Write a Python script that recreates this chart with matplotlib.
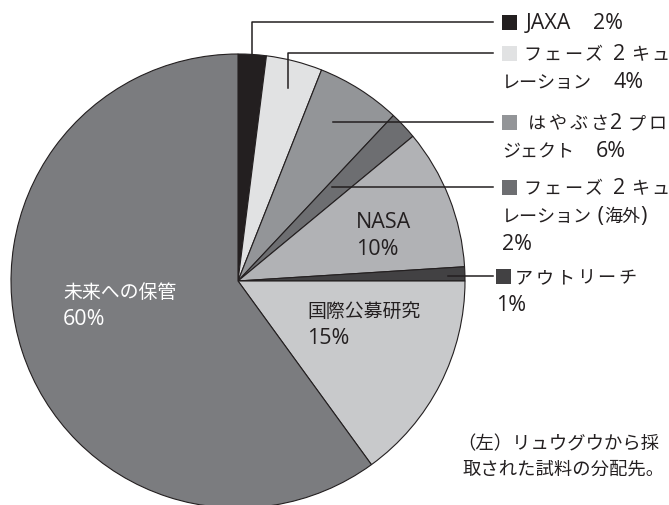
import matplotlib
matplotlib.use("Agg")
import matplotlib.pyplot as plt
from matplotlib.patches import Rectangle
import numpy as np

plt.rcParams['font.family'] = ['Open Sans', 'Noto Sans CJK JP', 'DejaVu Sans']

# data (clockwise from the top)
names = ["JAXA", "フェーズ2キュレーション", "はやぶさ2プロジェクト", "フェーズ2キュレーション(海外)",
         "NASA", "アウトリーチ", "国際公募研究", "未来への保管"]
shares = [2, 4, 6, 2, 10, 1, 15, 60]
colors = ["#231f20", "#e1e2e3", "#939598", "#6d6e71", "#b1b2b5", "#424143", "#c8c9cb", "#7b7c7f"]

# labels on the right, with leader lines (index -> lines of text)
outer_idx = [0, 1, 2, 3, 5]
outer_lines = [["JAXA　2%"],
               ["フェーズ 2キュ", "レーション　4%"],
               ["はやぶさ2プロ", "ジェクト　6%"],
               ["フェーズ 2キュ", "レーション (海外)", "2%"],
               ["アウトリーチ", "1%"]]

# labels inside the pie
inner_idx = [4, 6, 7]
inner_text = ["NASA\n10%", "国際公募研究\n15%", "未来への保管\n60%"]

caption = ["（左）リュウグウから採", "取された試料の分配先。"]

# layout (pixels, y measured from the top)
W, H = 669, 505
cx, cy, R = 238, 281, 227
label_y = [22, 53, 122, 187, 276]
anchor_frac = [1.0, 0.88, 0.78, 0.57, 0.925]
elbow = [True, True, False, False, False]
marker_x = [502, 502, 502, 502, 496]
text_dx = [24, 21, 26, 21, 19]
line_end = 493
inner_pos = [(356, 221), (307, 310), (63, 291)]
inner_col = ["#231f20", "#231f20", "white"]
text_col = "#231f20"
fs_cjk = 13.6
fs_out = 13.0
fs_lat = 15.5


def py(y):
    return H - y


fig = plt.figure(figsize=(W / 100, H / 100), dpi=100)
ax = fig.add_axes([0, 0, 1, 1])
renderer = fig.canvas.get_renderer()

ax.pie(shares, colors=colors, startangle=90, counterclock=False,
       center=(cx, py(cy)), radius=R,
       wedgeprops=dict(edgecolor="#231f20", linewidth=0.8))
ax.set_aspect("auto")
ax.set_xlim(0, W)
ax.set_ylim(0, H)
ax.axis("off")

cum = np.cumsum([0] + shares[:-1])
mid_deg = 90 - 3.6 * (cum + np.array(shares) / 2)


def runs(s):
    # split into ascii / cjk / ideographic-space runs
    out = []
    for ch in s:
        kind = "sp" if ch == "　" else ("lat" if ord(ch) < 128 else "cjk")
        if out and out[-1][0] == kind and kind != "sp":
            out[-1][1] += ch
        else:
            out.append([kind, ch])
    return out


def draw_line(x, y, s, color=text_col, track=None, fs_c=fs_cjk, gap=22):
    # text is centred on y (pixels from top); latin drawn a bit larger
    base = py(y + 7)
    for kind, part in runs(s):
        if kind == "sp":
            x += gap
            continue
        size = fs_lat if kind == "lat" else fs_c
        if track:
            for ch in part:
                if ch != " ":
                    ax.text(x, base, ch, ha="left", va="baseline", fontsize=size, color=color)
                x += 8 if ch == " " else (17.5 if kind == "lat" else track)
        else:
            t = ax.text(x, base, part, ha="left", va="baseline", fontsize=size, color=color)
            x += t.get_window_extent(renderer).width


for k, i in enumerate(outer_idx):
    a = np.deg2rad(mid_deg[i])
    ax_x = cx + anchor_frac[k] * R * np.cos(a)
    ax_y = cy - anchor_frac[k] * R * np.sin(a)
    ly = label_y[k]
    if elbow[k]:
        ax.plot([ax_x, ax_x, line_end], [py(ax_y), py(ly), py(ly)], color=text_col, lw=1.1)
    else:
        ax.plot([ax_x, line_end], [py(ly), py(ly)], color=text_col, lw=1.1)
    mx = marker_x[k]
    ax.add_patch(Rectangle((mx, py(ly) - 7.5), 15, 15, facecolor=colors[i], edgecolor="none"))
    lines = outer_lines[k]
    if k == 0:
        draw_line(mx + text_dx[k], ly, lines[0], fs_c=fs_out)
    else:
        draw_line(mx + text_dx[k], ly, lines[0], track=20.6, fs_c=fs_out)
    for j, ln in enumerate(lines[1:]):
        draw_line(mx, ly + 28 * (j + 1), ln, fs_c=fs_out)

for (x, y), s, c in zip(inner_pos, inner_text, inner_col):
    top, bottom = s.split("\n")
    draw_line(x, y, top, color=c)
    draw_line(x, y + 27, bottom, color=c)

draw_line(457, 442, caption[0], fs_c=13.2)
draw_line(463, 468, caption[1], fs_c=13.2)

fig.savefig("out.png", dpi=100)
